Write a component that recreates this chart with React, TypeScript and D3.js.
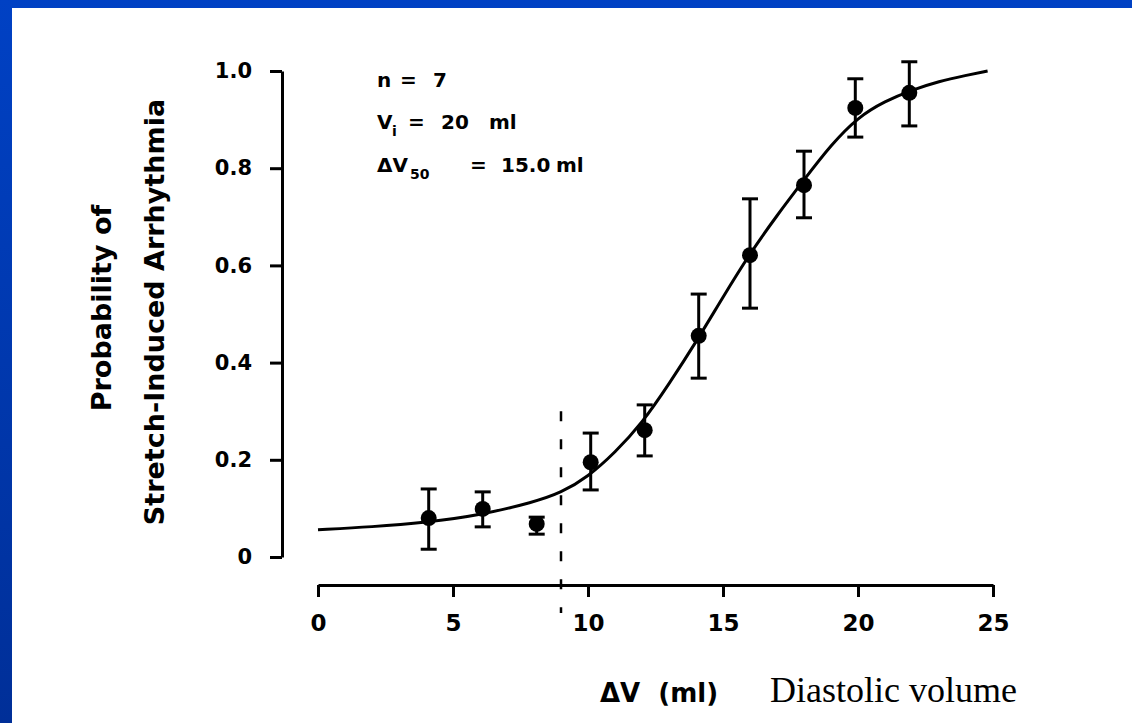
import React, { useEffect, useRef } from 'react';
import * as d3 from 'd3';

// measured points (ml, probability) with error bar ends
const volume = [4.1, 6.1, 8.1, 10.1, 12.1, 14.1, 16.0, 18.0, 19.9, 21.9];
const prob = [0.080, 0.099, 0.068, 0.195, 0.261, 0.455, 0.621, 0.765, 0.924, 0.955];
const errHigh = [0.140, 0.134, 0.082, 0.255, 0.313, 0.541, 0.737, 0.835, 0.984, 1.019];
const errLow = [0.016, 0.062, 0.047, 0.138, 0.208, 0.368, 0.512, 0.698, 0.864, 0.887];

// fitted sigmoid
const fitX = [0, 2, 4, 6, 8, 9, 10, 11, 12, 13, 14, 15, 16, 17, 18, 19, 20, 21, 22, 23, 24, 24.8];
const fitY = [0.056, 0.062, 0.071, 0.086, 0.113, 0.132, 0.165, 0.215, 0.275, 0.356, 0.442, 0.535,
  0.625, 0.703, 0.776, 0.848, 0.905, 0.938, 0.961, 0.979, 0.991, 1.0];

// dashed marker (Vi threshold)
const markerX = [9];
const markerY = [0.30, -0.115];

const xTicks = [0, 5, 10, 15, 20, 25];
const yTicks = [0, 0.2, 0.4, 0.6, 0.8, 1.0];

const W = 1132;
const H = 723;
const sans = '"DejaVu Sans", sans-serif';

const App = () => {
  const ref = useRef<SVGSVGElement>(null);

  useEffect(() => {
    const svg = d3.select(ref.current);
    svg.selectAll('*').remove();

    // slide background: blue frame on top and left
    const grad = svg.append('defs').append('linearGradient')
      .attr('id', 'bg').attr('x1', 0).attr('y1', 0).attr('x2', 0).attr('y2', 1);
    grad.append('stop').attr('offset', '0%').attr('stop-color', '#0041c4');
    grad.append('stop').attr('offset', '100%').attr('stop-color', '#002f98');
    svg.append('rect').attr('width', W).attr('height', H).attr('fill', 'url(#bg)');
    svg.append('rect').attr('x', 12).attr('y', 8).attr('width', W - 12).attr('height', H - 8).attr('fill', '#fff');

    const x = d3.scaleLinear().domain([0, 25]).range([318, 993]);
    const y = d3.scaleLinear().domain([0, 1]).range([557, 71]);
    const xAxisY = 585;
    const yAxisX = 282;

    // y axis
    const gy = svg.append('g')
      .attr('transform', `translate(${yAxisX},0)`)
      .call(d3.axisLeft(y).tickValues(yTicks).tickSize(12).tickSizeOuter(0).tickPadding(18)
        .tickFormat(d => (+d === 0 ? '0' : d3.format('.1f')(+d))));
    gy.select('.domain').attr('stroke-width', 3);
    gy.selectAll('.tick line').attr('stroke-width', 3);
    gy.selectAll('.tick text').attr('font-family', sans).attr('font-weight', 'bold').attr('font-size', 21).attr('fill', '#000');

    // x axis
    const gx = svg.append('g')
      .attr('transform', `translate(0,${xAxisY})`)
      .call(d3.axisBottom(x).tickValues(xTicks).tickSize(12).tickSizeOuter(0).tickPadding(18)
        .tickFormat(d3.format('d')));
    gx.select('.domain').attr('stroke-width', 3);
    gx.selectAll('.tick line').attr('stroke-width', 3);
    gx.selectAll('.tick text').attr('font-family', sans).attr('font-weight', 'bold').attr('font-size', 23).attr('fill', '#000');

    // dashed marker line
    svg.append('line')
      .attr('x1', x(markerX[0])).attr('x2', x(markerX[0]))
      .attr('y1', y(markerY[0])).attr('y2', y(markerY[1]))
      .attr('stroke', '#000').attr('stroke-width', 2.5).attr('stroke-dasharray', '10 18');

    // fitted curve
    const fit = fitX.map((v, i) => [v, fitY[i]] as [number, number]);
    svg.append('path')
      .datum(fit)
      .attr('d', d3.line<[number, number]>().x(d => x(d[0])).y(d => y(d[1])).curve(d3.curveBasis))
      .attr('fill', 'none').attr('stroke', '#000').attr('stroke-width', 3);

    // error bars + points
    const pts = volume.map((v, i) => ({ v, p: prob[i], hi: errHigh[i], lo: errLow[i] }));
    const eb = svg.append('g').attr('stroke', '#000').attr('stroke-width', 3);
    eb.selectAll('line.v').data(pts).join('line').attr('class', 'v')
      .attr('x1', d => x(d.v)).attr('x2', d => x(d.v))
      .attr('y1', d => y(d.hi)).attr('y2', d => y(d.lo));
    eb.selectAll('line.hi').data(pts).join('line').attr('class', 'hi')
      .attr('x1', d => x(d.v) - 8).attr('x2', d => x(d.v) + 8)
      .attr('y1', d => y(d.hi)).attr('y2', d => y(d.hi));
    eb.selectAll('line.lo').data(pts).join('line').attr('class', 'lo')
      .attr('x1', d => x(d.v) - 8).attr('x2', d => x(d.v) + 8)
      .attr('y1', d => y(d.lo)).attr('y2', d => y(d.lo));
    svg.append('g').selectAll('circle').data(pts).join('circle')
      .attr('cx', d => x(d.v)).attr('cy', d => y(d.p)).attr('r', 8).attr('fill', '#000');

    // y axis title
    const yt = svg.append('g').attr('font-family', sans).attr('font-weight', 'bold').attr('font-size', 27)
      .attr('text-anchor', 'middle');
    yt.append('text').attr('transform', 'translate(111,308) rotate(-90)').text('Probability of');
    yt.append('text').attr('transform', 'translate(164,312) rotate(-90)').text('Stretch-Induced Arrhythmia');

    // annotation block
    const ann = svg.append('g').attr('font-family', sans).attr('font-weight', 'bold').attr('font-size', 20);
    const l1 = ann.append('text').attr('y', 87);
    l1.append('tspan').attr('x', 377).text('n');
    l1.append('tspan').attr('x', 400).text('=');
    l1.append('tspan').attr('x', 433).text('7');
    const l2 = ann.append('text').attr('y', 129);
    l2.append('tspan').attr('x', 377).text('V');
    l2.append('tspan').attr('x', 392).attr('dy', 7).attr('font-size', 14).text('i');
    l2.append('tspan').attr('x', 408).attr('dy', -7).text('=');
    l2.append('tspan').attr('x', 441).text('20');
    l2.append('tspan').attr('x', 489).text('ml');
    const l3 = ann.append('text').attr('y', 172);
    l3.append('tspan').attr('x', 377).text('ΔV');
    l3.append('tspan').attr('x', 410).attr('dy', 7).attr('font-size', 14).text('50');
    l3.append('tspan').attr('x', 470).attr('dy', -7).text('=');
    l3.append('tspan').attr('x', 501).text('15.0');
    l3.append('tspan').attr('x', 556).text('ml');

    // x axis title + slide caption
    svg.append('text').attr('x', 600).attr('y', 702)
      .attr('font-family', sans).attr('font-weight', 'bold').attr('font-size', 26)
      .attr('xml:space', 'preserve').text('ΔV  (ml)');
    svg.append('text').attr('x', 770).attr('y', 702)
      .attr('font-family', '"Liberation Serif", "Times New Roman", serif').attr('font-size', 36)
      .text('Diastolic volume');
  }, []);

  return (
    <svg ref={ref} width={W} height={H} style={{ position: 'absolute', left: 0, top: 0 }} />
  );
};

export default App;
